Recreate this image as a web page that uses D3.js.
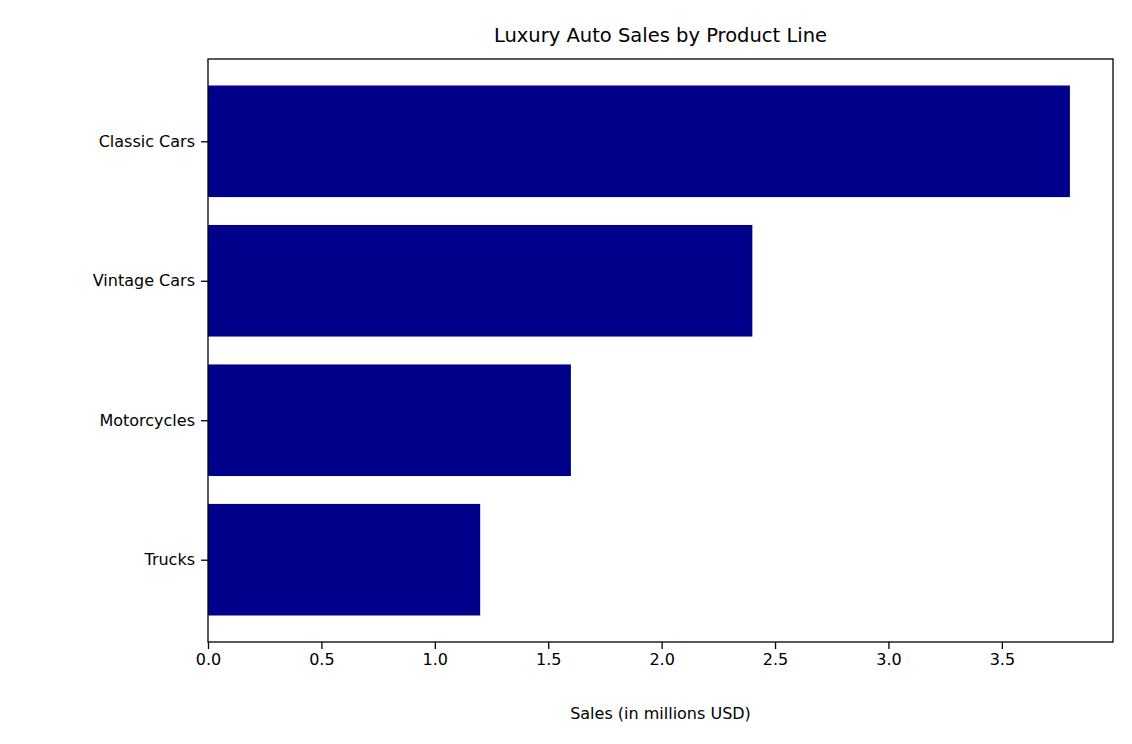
<!DOCTYPE html>
<html><head><meta charset="utf-8">
<script src="https://cdn.jsdelivr.net/npm/d3@7"></script>
<style>body{margin:0;background:#fff}text{font-family:"DejaVu Sans",sans-serif;fill:#000}</style>
</head><body><svg id="c" width="1132" height="744"></svg>
<script>
const categories = ["Classic Cars","Vintage Cars","Motorcycles","Trucks"];
const sales = [3.8, 2.4, 1.6, 1.2];
const xTicks = [0,0.5,1,1.5,2,2.5,3,3.5];

const svg = d3.select("#c");
const L=208,R=1113,T=59,B=642;
const x = d3.scaleLinear().domain([0,3.99]).range([L,R]);
const n = categories.length;
const y = d3.scaleLinear().domain([-0.4-0.19, n-1+0.4+0.19]).range([T,B]);

svg.selectAll("rect.bar").data(sales).join("rect")
  .attr("x",x(0)).attr("y",(d,i)=>y(i-0.4))
  .attr("width",d=>x(d)-x(0)).attr("height",(d,i)=>y(i+0.4)-y(i-0.4))
  .attr("fill","#00008b");

const xa = svg.append("g").attr("transform",`translate(0,${B})`)
  .call(d3.axisBottom(x).tickValues(xTicks).tickFormat(d3.format(".1f")).tickSize(7).tickPadding(5));
const ya = svg.append("g").attr("transform",`translate(${L},0)`)
  .call(d3.axisLeft(y).tickValues(d3.range(n)).tickFormat(i=>categories[i]).tickSize(7).tickPadding(6));
[xa,ya].forEach(a=>{a.select(".domain").remove();a.selectAll("text").style("font-size","16px").style("font-family","DejaVu Sans");a.selectAll("line").attr("stroke","#000").attr("stroke-width",1.3);});

svg.append("rect").attr("x",L).attr("y",T).attr("width",R-L).attr("height",B-T)
  .attr("fill","none").attr("stroke","#000").attr("stroke-width",1.3);

svg.append("text").attr("x",(L+R)/2).attr("y",42).attr("text-anchor","middle")
  .style("font-size","19.5px").text("Luxury Auto Sales by Product Line");
svg.append("text").attr("x",(L+R)/2).attr("y",719).attr("text-anchor","middle")
  .style("font-size","16px").text("Sales (in millions USD)");
</script></body></html>
